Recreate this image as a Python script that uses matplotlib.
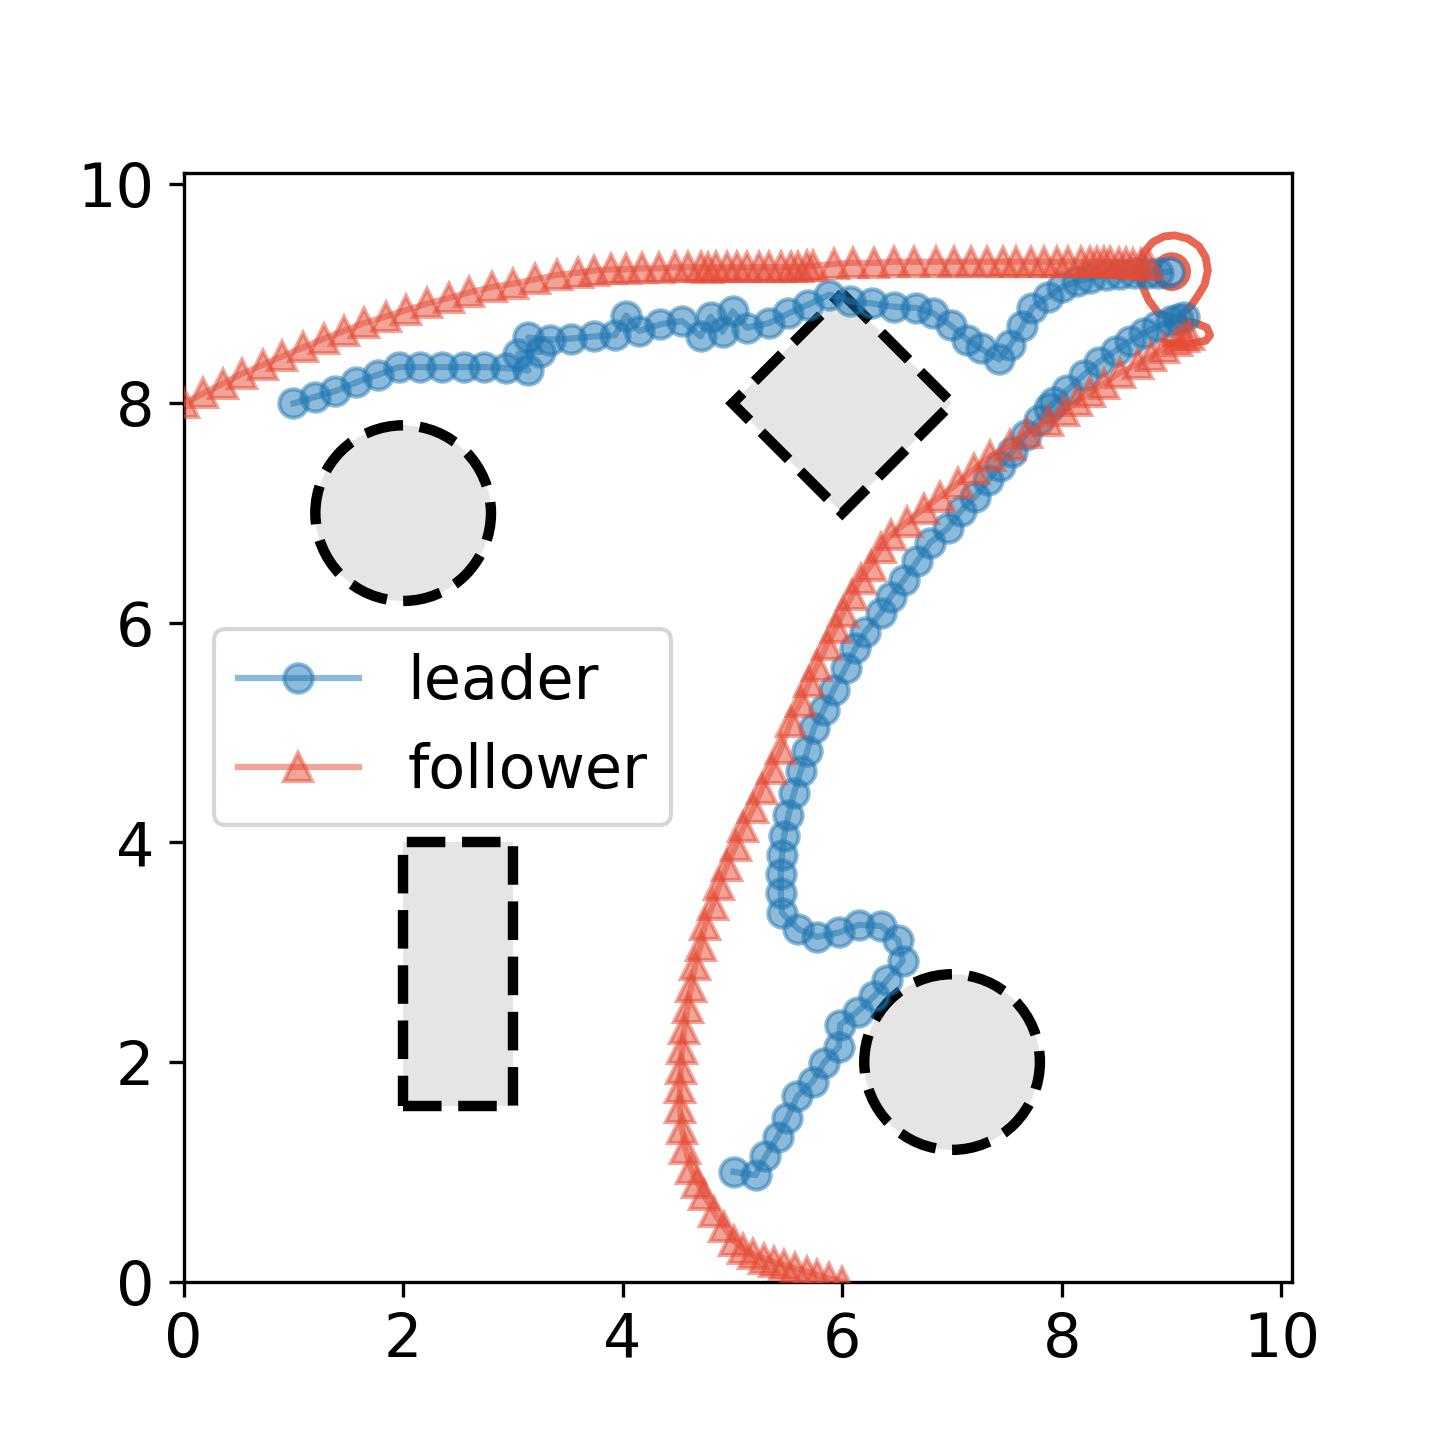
import matplotlib
matplotlib.use("Agg")
import matplotlib.pyplot as plt
from matplotlib.patches import Circle, Rectangle, Polygon

plt.rcParams['font.size'] = 14.5
plt.rcParams['font.family'] = ['DejaVu Sans']

LEADER_COLOR = '#1f77b4'
FOLLOWER_COLOR = '#E64B35'

# leader trajectory: top segment (from (1,8) to goal)
leader_top_x = [1.00, 1.20, 1.38, 1.57, 1.77, 1.96, 2.15, 2.35, 2.55, 2.74, 2.94, 3.14, 3.05, 3.25,
                3.14, 3.34, 3.53, 3.74, 3.93, 4.03, 4.15, 4.34, 4.54, 4.71, 4.80, 4.91, 5.00, 5.13,
                5.33, 5.51, 5.69, 5.88, 6.07, 6.27, 6.47, 6.67, 6.83, 6.99, 7.14, 7.26, 7.43, 7.53,
                7.64, 7.73, 7.87, 8.00, 8.14, 8.26, 8.40, 8.53, 8.66, 8.78, 8.88, 8.98]
leader_top_y = [8.00, 8.06, 8.11, 8.19, 8.26, 8.33, 8.33, 8.33, 8.33, 8.33, 8.32, 8.30, 8.45, 8.47,
                8.60, 8.58, 8.59, 8.61, 8.62, 8.80, 8.66, 8.72, 8.75, 8.61, 8.79, 8.65, 8.84, 8.69,
                8.73, 8.82, 8.90, 8.99, 8.93, 8.91, 8.88, 8.87, 8.82, 8.71, 8.58, 8.50, 8.40, 8.53,
                8.70, 8.87, 8.97, 9.06, 9.11, 9.14, 9.17, 9.18, 9.19, 9.19, 9.19, 9.20]

# leader trajectory: lower segment (from (5,1) up to the goal area)
leader_low_x = [5.01, 5.21, 5.30, 5.41, 5.50, 5.59, 5.73, 5.83, 5.97, 5.98, 6.14, 6.29, 6.41, 6.55,
                6.51, 6.35, 6.15, 5.97, 5.77, 5.60, 5.45, 5.44, 5.44, 5.45, 5.47, 5.51, 5.56, 5.62,
                5.68, 5.74, 5.83, 5.92, 6.03, 6.12, 6.21, 6.35, 6.44, 6.56, 6.68, 6.80, 6.96, 7.08,
                7.21, 7.33, 7.44, 7.55, 7.67, 7.79, 7.88, 7.93, 8.05, 8.20, 8.34, 8.49, 8.62, 8.75,
                8.87, 8.99, 9.06, 9.11]
leader_low_y = [1.00, 0.97, 1.14, 1.32, 1.49, 1.69, 1.82, 1.99, 2.14, 2.34, 2.46, 2.60, 2.75, 2.92,
                3.11, 3.24, 3.25, 3.18, 3.14, 3.21, 3.36, 3.54, 3.71, 3.89, 4.06, 4.25, 4.45, 4.65,
                4.83, 5.04, 5.21, 5.39, 5.59, 5.77, 5.92, 6.09, 6.24, 6.39, 6.56, 6.73, 6.86, 7.02,
                7.15, 7.30, 7.43, 7.56, 7.71, 7.85, 7.96, 8.01, 8.12, 8.26, 8.38, 8.48, 8.57, 8.64,
                8.70, 8.75, 8.77, 8.79]

# follower trajectory: top segment (from (0,8) to goal)
follower_top_x = [0.00, 0.18, 0.36, 0.53, 0.72, 0.90, 1.09, 1.28, 1.46, 1.64, 1.84, 2.03, 2.22, 2.42,
                  2.60, 2.81, 3.00, 3.20, 3.40, 3.59, 3.74, 3.89, 4.03, 4.18, 4.33, 4.48, 4.59, 4.71,
                  4.78, 4.85, 4.95, 5.04, 5.13, 5.24, 5.33, 5.44, 5.53, 5.60, 5.68, 5.73, 5.92, 6.10,
                  6.29, 6.47, 6.65, 6.85, 7.02, 7.17, 7.32, 7.46, 7.58, 7.72, 7.84, 7.96, 8.06, 8.17,
                  8.26, 8.32, 8.38, 8.44, 8.52, 8.58, 8.65, 8.72, 8.79]
follower_top_y = [8.00, 8.09, 8.18, 8.27, 8.35, 8.43, 8.51, 8.59, 8.66, 8.73, 8.79, 8.85, 8.91, 8.96,
                  9.01, 9.06, 9.09, 9.13, 9.17, 9.19, 9.21, 9.22, 9.22, 9.23, 9.23, 9.24, 9.24, 9.24,
                  9.23, 9.24, 9.24, 9.24, 9.24, 9.24, 9.24, 9.24, 9.24, 9.24, 9.25, 9.25, 9.27, 9.28,
                  9.28, 9.29, 9.29, 9.29, 9.29, 9.29, 9.29, 9.29, 9.29, 9.29, 9.29, 9.29, 9.29, 9.29,
                  9.29, 9.29, 9.29, 9.29, 9.28, 9.28, 9.27, 9.27, 9.26]

# follower trajectory: lower segment (from (6,0) up to the goal area)
follower_low_x = [6.00, 5.88, 5.77, 5.68, 5.57, 5.47, 5.38, 5.29, 5.19, 5.10, 5.01, 4.92, 4.83, 4.74,
                  4.68, 4.62, 4.57, 4.54, 4.52, 4.52, 4.53, 4.54, 4.56, 4.59, 4.62, 4.66, 4.71, 4.75,
                  4.82, 4.88, 4.95, 5.03, 5.10, 5.19, 5.27, 5.36, 5.44, 5.53, 5.62, 5.70, 5.77, 5.86,
                  5.94, 6.01, 6.09, 6.17, 6.26, 6.35, 6.44, 6.59, 6.74, 6.89, 7.05, 7.20, 7.35, 7.53,
                  7.68, 7.87, 8.02, 8.14, 8.26, 8.38, 8.53, 8.69, 8.81, 8.93, 9.05, 9.11, 9.16]
follower_low_y = [0.00, 0.03, 0.06, 0.09, 0.12, 0.15, 0.18, 0.21, 0.25, 0.30, 0.37, 0.50, 0.63, 0.79,
                  0.90, 1.03, 1.21, 1.39, 1.58, 1.76, 1.94, 2.12, 2.30, 2.49, 2.68, 2.88, 3.06, 3.25,
                  3.43, 3.61, 3.79, 3.97, 4.14, 4.31, 4.49, 4.67, 4.85, 5.10, 5.28, 5.46, 5.61, 5.80,
                  5.95, 6.10, 6.25, 6.40, 6.52, 6.68, 6.80, 6.92, 7.04, 7.15, 7.27, 7.40, 7.52, 7.62,
                  7.73, 7.84, 7.93, 8.02, 8.10, 8.18, 8.28, 8.36, 8.43, 8.50, 8.57, 8.60, 8.62]

# goal pin outline near the end point
pin_x = [8.95, 9.10, 9.20, 9.31, 9.35, 9.32, 9.22, 9.05, 8.88, 8.79, 8.72, 8.71, 8.75, 8.83, 8.93,
         9.03, 9.15, 9.25, 9.31, 9.33, 9.30, 9.24, 9.17, 9.08, 8.98]
pin_y = [8.55, 8.54, 8.55, 8.57, 8.62, 8.69, 8.73, 8.77, 8.82, 8.94, 9.10, 9.25, 9.38, 9.47, 9.52,
         9.53, 9.50, 9.43, 9.33, 9.21, 9.08, 8.98, 8.88, 8.80, 8.72]
goal_center = (9.0, 9.2)
goal_ring_r = 0.14

# obstacles
circle_obstacles = [((2.0, 7.0), 0.8), ((7.0, 2.0), 0.8)]
rect_obstacle = ((2.0, 1.6), 1.0, 2.4)
diamond_obstacle = [(6.0, 9.0), (7.0, 8.0), (6.0, 7.0), (5.0, 8.0)]

fig, ax = plt.subplots(figsize=(4.8, 4.8), dpi=300)

obs_style = dict(facecolor='#e5e5e5', edgecolor='black', linestyle='--', linewidth=2.5, zorder=1)
for c, r in circle_obstacles:
    ax.add_patch(Circle(c, r, **obs_style))
ax.add_patch(Rectangle(rect_obstacle[0], rect_obstacle[1], rect_obstacle[2], **obs_style))
ax.add_patch(Polygon(diamond_obstacle, closed=True, **obs_style))

MS = 6.8
ax.plot(leader_top_x, leader_top_y, marker='o', ms=MS, color=LEADER_COLOR, alpha=0.5, label='leader', zorder=3)
ax.plot(leader_low_x, leader_low_y, marker='o', ms=MS, color=LEADER_COLOR, alpha=0.5, zorder=3)
ax.plot(follower_top_x, follower_top_y, marker='^', ms=MS, color=FOLLOWER_COLOR, alpha=0.5, label='follower', zorder=3)
ax.plot(follower_low_x, follower_low_y, marker='^', ms=MS, color=FOLLOWER_COLOR, alpha=0.5, zorder=3)

ax.plot(pin_x, pin_y, color=FOLLOWER_COLOR, alpha=0.85, linewidth=1.9, zorder=2.5)
ax.add_patch(Circle(goal_center, goal_ring_r, fill=False, edgecolor=FOLLOWER_COLOR, alpha=0.85,
                    linewidth=1.9, zorder=2.5))

ax.set_xlim(0, 10.1)
ax.set_ylim(0, 10.1)
ax.set_aspect('equal')
ax.set_xticks([0, 2, 4, 6, 8, 10])
ax.set_yticks([0, 2, 4, 6, 8, 10])

ax.legend(loc='center left')

fig.savefig('out.png', dpi=300)
